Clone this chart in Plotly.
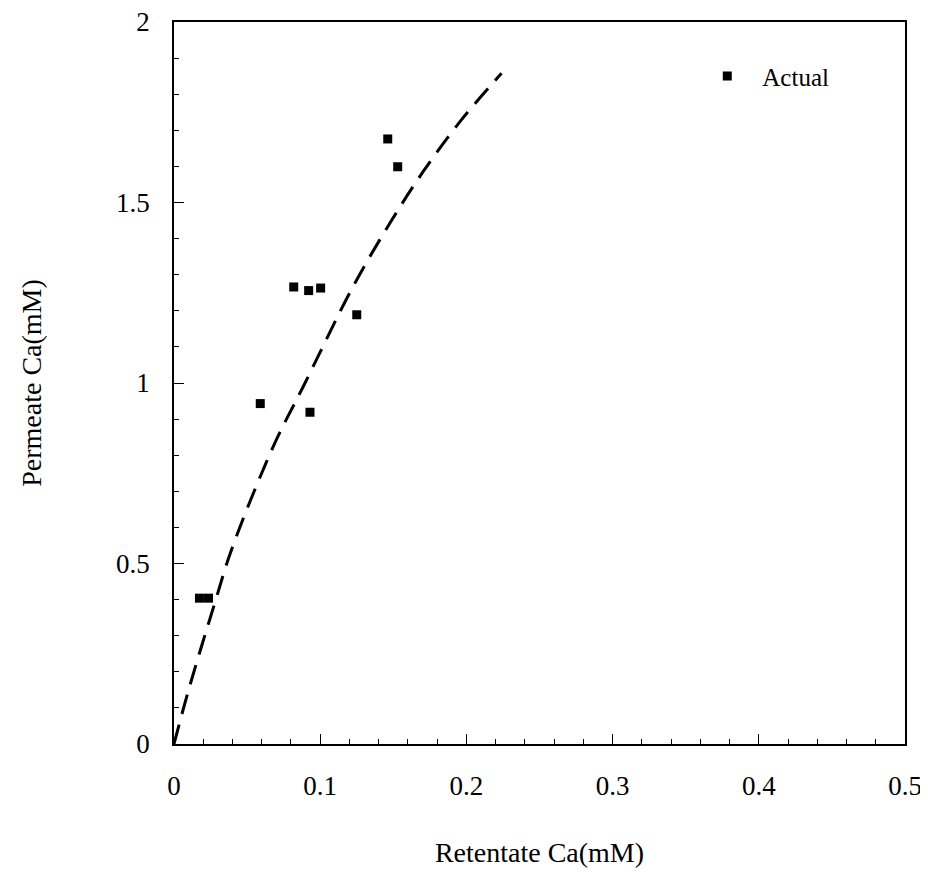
import plotly.graph_objects as go

# Measured data ("Actual")
actual_x = [0.0174, 0.0236, 0.059, 0.0819, 0.0921, 0.093, 0.1003, 0.125, 0.1462, 0.153]
actual_y = [0.404, 0.404, 0.943, 1.266, 1.256, 0.919, 1.263, 1.189, 1.676, 1.599]

# Dashed model curve
curve_x = [0.0, 0.01, 0.028, 0.0394, 0.068, 0.0885, 0.1226, 0.1477, 0.1705, 0.1956, 0.224]
curve_y = [0.0, 0.15, 0.392, 0.539, 0.825, 0.991, 1.268, 1.443, 1.586, 1.724, 1.858]

x_ticks = [0, 0.1, 0.2, 0.3, 0.4, 0.5]
x_labels = ["0", "0.1", "0.2", "0.3", "0.4", "0.5"]
y_ticks = [0, 0.5, 1, 1.5, 2]
y_labels = ["0", "0.5", "1", "1.5", "2"]

serif = "Liberation Serif, Times New Roman, serif"

fig = go.Figure()
fig.add_trace(go.Scatter(
    x=curve_x, y=curve_y, mode="lines", showlegend=False,
    line=dict(color="black", width=3, dash="20px,11px", shape="spline"),
))
fig.add_trace(go.Scatter(
    x=actual_x, y=actual_y, mode="markers", name="Actual",
    marker=dict(symbol="square", size=9, color="black"),
))

axis_common = dict(
    showline=True, linecolor="black", linewidth=1.5, mirror=True,
    ticks="inside", tickcolor="black", ticklen=10, tickwidth=1.2,
    showgrid=False, zeroline=False, automargin=False,
    ticklabelstandoff=17, ticklabeloverflow="allow",
    tickfont=dict(family=serif, size=27, color="black"),
)

fig.update_layout(
    width=928, height=862,
    margin=dict(l=166, r=31, t=14, b=126),
    paper_bgcolor="white", plot_bgcolor="white",
    xaxis=dict(
        range=[0, 0.5], tickvals=x_ticks, ticktext=x_labels,
        minor=dict(dtick=0.02, ticks="inside", ticklen=5, tickcolor="black", tickwidth=1),
        title=dict(text="Retentate Ca(mM)", font=dict(family=serif, size=28, color="black"), standoff=42),
        **axis_common,
    ),
    yaxis=dict(
        range=[0, 2], tickvals=y_ticks, ticktext=y_labels,
        minor=dict(dtick=0.1, ticks="inside", ticklen=5, tickcolor="black", tickwidth=1),
        title=dict(text="Permeate Ca(mM)", font=dict(family=serif, size=28, color="black"), standoff=66),
        **axis_common,
    ),
    legend=dict(
        x=0.709, y=0.925, xanchor="left", yanchor="middle",
        bgcolor="rgba(0,0,0,0)", itemwidth=60,
        font=dict(family=serif, size=25, color="black"),
    ),
)

fig.write_html("out.html")
